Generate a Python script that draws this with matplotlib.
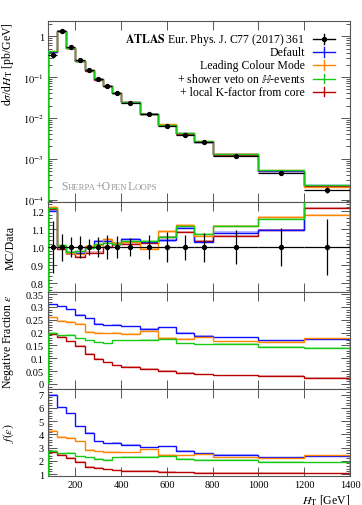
import numpy as np
import matplotlib
matplotlib.use("Agg")
import matplotlib.pyplot as plt
from matplotlib.ticker import MultipleLocator, FixedLocator, LogLocator, NullFormatter, NullLocator
from matplotlib.offsetbox import TextArea, HPacker, AnchoredOffsetbox

plt.rcParams['font.family'] = ['Liberation Serif', 'DejaVu Serif']
plt.rcParams['mathtext.fontset'] = 'stix'

# --- data ------------------------------------------------------------------
edges = [80, 120, 160, 200, 240, 280, 320, 360, 400, 480, 560, 640, 720, 800, 1000, 1200, 1400]
data_xs = [0.35, 1.37, 0.54, 0.26, 0.149, 0.088, 0.0595, 0.040, 0.0236, 0.0123,
           0.0064, 0.0038, 0.0025, 0.00118, 0.00045, 0.000174]
data_relerr = [0.145, 0.074, 0.056, 0.059, 0.046, 0.056, 0.065, 0.059, 0.050, 0.065,
               0.083, 0.070, 0.080, 0.093, 0.107, 0.155]

# MC / Data
ratio_default = [1.20, 1.00, 0.97, 0.97, 0.995, 1.033, 1.033, 1.02, 1.043, 1.028,
                 1.037, 1.105, 1.028, 1.081, 1.093, 1.27]
ratio_lc = [1.22, 1.00, 0.965, 0.96, 1.005, 1.01, 1.046, 1.024, 1.03, 0.99,
            1.087, 1.12, 1.061, 1.118, 1.168, 1.178]
ratio_veto = [1.215, 1.01, 0.975, 0.98, 0.995, 1.015, 1.024, 1.02, 1.033, 1.033,
              1.056, 1.115, 1.072, 1.115, 1.154, 1.28]
ratio_kfac = [1.21, 0.99, 0.965, 0.945, 0.97, 0.97, 1.0, 1.015, 1.019, 1.022,
              1.056, 1.083, 1.033, 1.061, 1.093, 1.217]

# negative weight fraction
neg_default = [0.311, 0.302, 0.291, 0.270, 0.255, 0.235, 0.229, 0.231, 0.224, 0.216,
               0.221, 0.200, 0.187, 0.182, 0.171, 0.176]
neg_lc = [0.259, 0.247, 0.243, 0.234, 0.204, 0.200, 0.197, 0.199, 0.196, 0.208,
          0.180, 0.176, 0.184, 0.167, 0.165, 0.179]
neg_veto = [0.199, 0.190, 0.191, 0.178, 0.171, 0.162, 0.158, 0.170, 0.171, 0.173,
            0.174, 0.159, 0.154, 0.156, 0.144, 0.141]
neg_kfac = [0.196, 0.184, 0.166, 0.148, 0.118, 0.098, 0.085, 0.073, 0.068, 0.060,
            0.052, 0.044, 0.038, 0.034, 0.033, 0.024]

# f(eps)
f_default = [7.0, 6.04, 5.58, 4.60, 4.12, 3.47, 3.32, 3.37, 3.22, 3.02,
             3.09, 2.74, 2.56, 2.46, 2.26, 2.36]
f_lc = [4.25, 3.82, 3.75, 3.47, 2.81, 2.71, 2.66, 2.69, 2.64, 2.86,
        2.44, 2.41, 2.49, 2.26, 2.21, 2.41]
f_veto = [2.74, 2.56, 2.59, 2.34, 2.26, 2.13, 2.08, 2.26, 2.28, 2.28,
          2.34, 2.13, 2.06, 2.06, 1.93, 1.88]
f_kfac = [2.66, 2.46, 2.21, 1.93, 1.55, 1.45, 1.35, 1.28, 1.25, 1.23,
          1.18, 1.13, 1.10, 1.10, 1.08, 1.05]

labels = ['Default', 'Leading Colour Mode', '+ shower veto on $\\mathbb{H}$-events',
          '+ local K-factor from core']
colors = ['#1010ff', '#ff8400', '#18c818', '#b80000']
zorders = [2.2, 2.4, 2.6, 2.0]   # green ends up on top, red underneath
ratios = [ratio_default, ratio_lc, ratio_veto, ratio_kfac]
negs = [neg_default, neg_lc, neg_veto, neg_kfac]
fs = [f_default, f_lc, f_veto, f_kfac]

edges = np.array(edges, dtype=float)
centers = 0.5 * (edges[1:] + edges[:-1])
halfw = 0.5 * (edges[1:] - edges[:-1])
data_xs = np.array(data_xs)
data_relerr = np.array(data_relerr)

# --- layout ------------------------------------------------------------------
W, H = 362, 506
fig = plt.figure(figsize=(W / 100, H / 100), dpi=100)
L, R = 48 / W, 350 / W
def box(top, bot):
    return [L, 1 - bot / H, R - L, (bot - top) / H]

ax_main = fig.add_axes(box(22, 203))
ax_rat = fig.add_axes(box(203, 293.3), sharex=ax_main)
ax_neg = fig.add_axes(box(293.3, 390), sharex=ax_main)
ax_f = fig.add_axes(box(390, 477), sharex=ax_main)
axes = [ax_main, ax_rat, ax_neg, ax_f]

frame_col = '#555555'
for ax in axes:
    for s in ax.spines.values():
        s.set_color(frame_col)
        s.set_linewidth(0.8)
    ax.tick_params(which='both', direction='in', top=True, right=True,
                   colors=frame_col, labelcolor='black', labelsize=7.5, width=0.7)
    ax.tick_params(which='major', length=6.5, pad=3)
    ax.tick_params(which='minor', length=3)
    ax.set_xlim(80, 1400)
    ax.xaxis.set_major_locator(MultipleLocator(200))
    ax.xaxis.set_minor_locator(NullLocator())
    if ax is not ax_f:
        ax.tick_params(labelbottom=False)

# --- main panel ---
for r, c, z in zip(ratios, colors, zorders):
    mc = data_xs * np.array(r)
    ax_main.stairs(mc * 1.02, edges, baseline=mc * 0.98, fill=True, color=c, alpha=0.3, lw=0, zorder=z - 0.5)
    ax_main.stairs(mc, edges, color=c, lw=1.0, zorder=z)
ax_main.errorbar(centers, data_xs, xerr=halfw, yerr=data_xs * data_relerr,
                 fmt='o', color='black', ms=2.8, lw=0.9, capsize=0, zorder=3)
ax_main.set_yscale('log')
ax_main.set_ylim(8.7e-5, 2.37)
ax_main.yaxis.set_major_locator(LogLocator(base=10, numticks=10))
ax_main.yaxis.set_minor_locator(LogLocator(base=10, subs=np.arange(2, 10), numticks=20))
ax_main.yaxis.set_minor_formatter(NullFormatter())
ax_main.set_yticks([1e-4, 1e-3, 1e-2, 1e-1, 1])
ax_main.set_yticklabels(['$10^{-4}$', '$10^{-3}$', '$10^{-2}$', '$10^{-1}$', '1'])
ax_main.set_ylabel(r'd$\sigma$/d$H_\mathrm{T}$ [pb/GeV]', fontsize=8.5, loc='top')
ax_main.yaxis.set_label_coords(-0.105, 1.0)

# legend drawn by hand, right aligned
leg_y = [0.9006, 0.8287, 0.757, 0.680, 0.608]
leg_text = [r'$\mathbf{ATLAS}$ Eur. Phys. J. C77 (2017) 361'] + labels
leg_col = ['black'] + colors
for yy, t, c in zip(leg_y, leg_text, leg_col):
    ax_main.text(0.851, yy, t, transform=ax_main.transAxes, ha='right', va='center', fontsize=8.5)
    ax_main.plot([0.877, 0.950], [yy, yy], color=c, lw=1.0, transform=ax_main.transAxes)
    ax_main.plot([0.9135, 0.9135], [yy - 0.025, yy + 0.025], color=c, lw=1.0,
                 transform=ax_main.transAxes)
ax_main.plot([0.9135], [leg_y[0]], 'o', color='black', ms=2.8, transform=ax_main.transAxes)

# Sherpa+OpenLoops in small caps
grey = '#999999'
parts = [('S', 8.5), ('HERPA', 6.3), ('+O', 8.5), ('PEN', 6.3), ('L', 8.5), ('OOPS', 6.3)]
tas = [TextArea(t, textprops=dict(color=grey, fontsize=fsz)) for t, fsz in parts]
pack = HPacker(children=tas, align='baseline', pad=0, sep=0)
ab = AnchoredOffsetbox(loc='lower left', child=pack, frameon=False,
                       bbox_to_anchor=(0.043, 0.055), bbox_transform=ax_main.transAxes,
                       borderpad=0, pad=0)
ax_main.add_artist(ab)

# --- ratio panel ---
ax_rat.errorbar(centers, np.ones_like(centers), xerr=halfw, yerr=data_relerr,
                fmt='o', color='black', ms=2.8, lw=0.9, capsize=0, zorder=5)
for r, c, z in zip(ratios, colors, zorders):
    r = np.array(r)
    ax_rat.stairs(r + 0.006, edges, baseline=r - 0.006, fill=True, color=c, alpha=0.3, lw=0, zorder=z - 0.5)
    ax_rat.stairs(r, edges, color=c, lw=1.0, zorder=z)
ax_rat.set_ylim(0.75, 1.25)
ax_rat.yaxis.set_major_locator(FixedLocator([0.8, 0.9, 1.0, 1.1, 1.2]))
ax_rat.yaxis.set_minor_locator(MultipleLocator(0.02))
ax_rat.set_yticklabels(['0.8', '0.9', '1.0', '1.1', '1.2'])
ax_rat.set_ylabel('MC/Data', fontsize=8.5)
ax_rat.yaxis.set_label_coords(-0.105, 0.5)

# --- negative fraction panel ---
for n, c, z in zip(negs, colors, zorders):
    n = np.array(n)
    ax_neg.stairs(n + 0.002, edges, baseline=n - 0.002, fill=True, color=c, alpha=0.3, lw=0, zorder=z - 0.5)
    ax_neg.stairs(n, edges, color=c, lw=1.0, zorder=z)
ax_neg.set_ylim(-0.0195, 0.357)
ax_neg.yaxis.set_major_locator(FixedLocator([0, 0.05, 0.1, 0.15, 0.2, 0.25, 0.3, 0.35]))
ax_neg.yaxis.set_minor_locator(MultipleLocator(0.01))
ax_neg.set_yticklabels(['0', '0.05', '0.1', '0.15', '0.2', '0.25', '0.3', '0.35'])
ax_neg.set_ylabel(r'Negative Fraction $\varepsilon$', fontsize=8.5)
ax_neg.yaxis.set_label_coords(-0.105, 0.5)

# --- f(eps) panel ---
for f, c, z in zip(fs, colors, zorders):
    f = np.array(f)
    ax_f.stairs(f + 0.05, edges, baseline=f - 0.05, fill=True, color=c, alpha=0.3, lw=0, zorder=z - 0.5)
    ax_f.stairs(f, edges, color=c, lw=1.0, zorder=z)
ax_f.set_ylim(0.85, 7.43)
ax_f.yaxis.set_major_locator(FixedLocator([1, 2, 3, 4, 5, 6, 7]))
ax_f.yaxis.set_minor_locator(MultipleLocator(0.2))
ax_f.set_yticklabels([str(v) for v in range(1, 8)])
ax_f.set_ylabel(r'$f(\varepsilon)$', fontsize=8.5)
ax_f.yaxis.set_label_coords(-0.105, 0.5)
ax_f.set_xlabel(r'$H_\mathrm{T}$ [GeV]', fontsize=8.5, loc='right', labelpad=2)

fig.savefig('out.png', dpi=100)
